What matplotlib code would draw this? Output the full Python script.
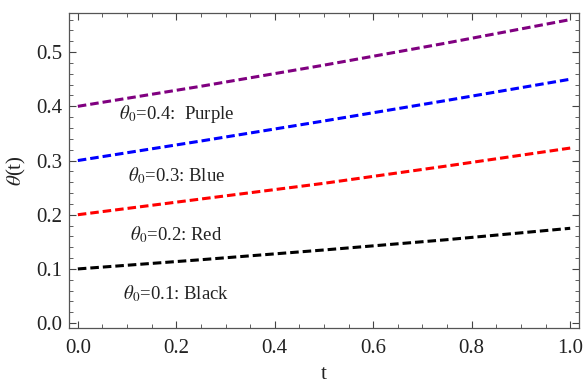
import matplotlib
matplotlib.use("Agg")
import matplotlib.pyplot as plt
from matplotlib.ticker import MultipleLocator
import numpy as np

t = [0.0, 0.25, 0.5, 0.75, 1.0]
theta_purple = [0.40, 0.437, 0.476, 0.517, 0.56]
theta_blue = [0.30, 0.336, 0.373, 0.411, 0.45]
theta_red = [0.20, 0.229, 0.258, 0.290, 0.323]
theta_black = [0.10, 0.117, 0.135, 0.154, 0.175]

series = [
    (theta_purple, "#800080", r"$\theta_0$=0.4:  Purple", 0.20, 0.385),
    (theta_blue, "#0000ff", r"$\theta_0$=0.3: Blue", 0.20, 0.273),
    (theta_red, "#ff0000", r"$\theta_0$=0.2: Red", 0.20, 0.164),
    (theta_black, "#000000", r"$\theta_0$=0.1: Black", 0.20, 0.055),
]

plt.rcParams['font.family'] = ['Liberation Serif', 'DejaVu Serif']
plt.rcParams['mathtext.fontset'] = 'stix'

fig = plt.figure(figsize=(5.87, 3.85), dpi=100)
ax = fig.add_axes([0.1175, 0.148, 0.869, 0.818])

for y, c, lab, lx, ly in series:
    ax.plot(t, y, color=c, lw=2.2, dashes=(2.8, 1.3))
    ax.text(lx, ly, lab, fontsize=13.5, ha='center', va='center', color='#222222')

ax.set_xlim(-0.018, 1.018)
ax.set_ylim(-0.009, 0.572)
ax.xaxis.set_major_locator(MultipleLocator(0.2))
ax.xaxis.set_minor_locator(MultipleLocator(0.05))
ax.yaxis.set_major_locator(MultipleLocator(0.1))
ax.yaxis.set_minor_locator(MultipleLocator(0.02))
ax.xaxis.set_major_formatter(matplotlib.ticker.FormatStrFormatter('%.1f'))
ax.yaxis.set_major_formatter(matplotlib.ticker.FormatStrFormatter('%.1f'))
ax.tick_params(which='both', direction='in', top=True, right=True, colors='#444444',
               labelcolor='#222222', labelsize=15)
ax.tick_params(which='major', length=5, width=0.8)
ax.tick_params(which='minor', length=3, width=0.6)
ax.tick_params(axis='x', pad=8)
ax.tick_params(axis='y', pad=5)
for s in ax.spines.values():
    s.set_color('#555555')
    s.set_linewidth(0.9)

ax.set_xlabel('t', fontsize=15, color='#222222', labelpad=5)
ax.set_ylabel(r'$\theta$(t)', fontsize=15, color='#222222', labelpad=6)

fig.savefig('out.png', dpi=100)
